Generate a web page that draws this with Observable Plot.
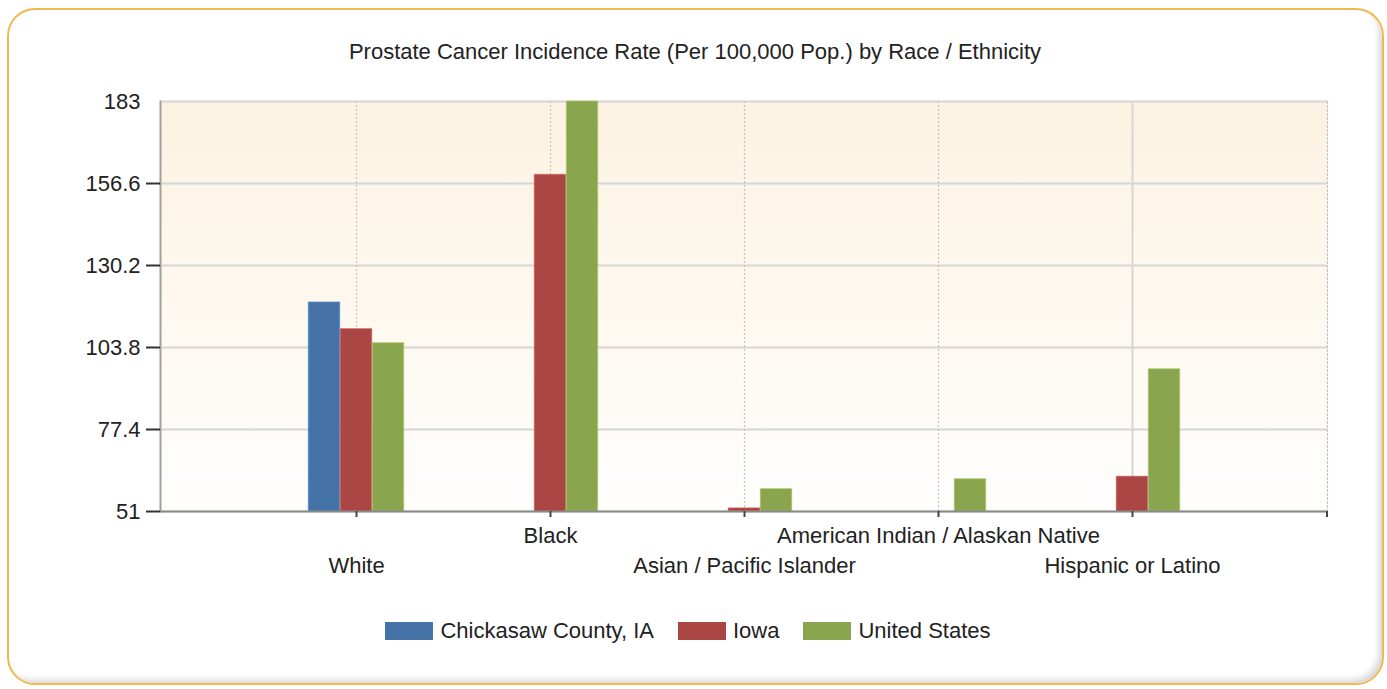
<!DOCTYPE html>
<html>
<head>
<meta charset="utf-8">
<script src="https://cdn.jsdelivr.net/npm/d3@7"></script>
<script src="https://cdn.jsdelivr.net/npm/@observablehq/plot@0.6"></script>
<style>
  html, body { margin: 0; padding: 0; background: #fff; width: 1387px; height: 689px; overflow: hidden; }
  body { position: relative; font-family: "Liberation Sans", Arial, sans-serif; color: #222; }
  #box { position: absolute; left: 7px; top: 8px; width: 1373px; height: 673px; border: 2px solid #f0b94e; border-radius: 28px;
         box-shadow: inset -5px -5px 6px -2px rgba(0,0,0,0.16); }
  #title { position: absolute; left: 0; width: 1390px; top: 39px; text-align: center; font-size: 22px; color: #222; }
  #chart { position: absolute; left: 0; top: 0; }
  #legend { position: absolute; left: 0; width: 1376px; top: 618px; display: flex; justify-content: center; font-size: 22px; color: #222; }
  .item { display: flex; align-items: center; margin: 0 12px; }
  .sw { width: 48px; height: 18px; margin-right: 7px; }
</style>
</head>
<body>
<div id="box"></div>
<div id="title">Prostate Cancer Incidence Rate (Per 100,000 Pop.) by Race / Ethnicity</div>
<div id="chart"></div>
<div id="legend"></div>
<script>
const categories = ["White", "Black", "Asian / Pacific Islander", "American Indian / Alaskan Native", "Hispanic or Latino"];
const series = ["Chickasaw County, IA", "Iowa", "United States"];
const colors = ["#4572a7", "#aa4643", "#89a54e"];
const chickasaw = [118.3, null, null, null, null];
const iowa = [109.7, 159.4, 52.0, null, 62.2];
const unitedStates = [105.2, 183.0, 58.2, 61.4, 96.8];
const yTicks = [51, 77.4, 103.8, 130.2, 156.6, 183];
const yMin = 51, yMax = 183;

const W = 1387, H = 600;
const mL = 160, mR = 60, mT = 101, mB = 89;
const barWidth = 32;
const band = (W - mL - mR) / (categories.length + 1);
const inset = (band - barWidth) / 2;

const valuesBySeries = [chickasaw, iowa, unitedStates];
const rows = [];
series.forEach((s, si) => categories.forEach((c, ci) => {
  const v = valuesBySeries[si][ci];
  if (v != null) rows.push({series: s, si, category: c, value: v});
}));

const upper = [categories[1], categories[3]];
const lower = [categories[0], categories[2], categories[4]];

const barMarks = series.map((s, si) => Plot.barY(rows.filter(r => r.si === si), {
  x: "category", y1: yMin, y2: "value", fill: colors[si],
  insetLeft: inset, insetRight: inset, dx: (si - 1) * barWidth,
  stroke: d3.color(colors[si]).brighter(0.6).formatHex(), strokeWidth: 1, strokeOpacity: 0.6
}));

const plot = Plot.plot({
  width: W, height: H,
  marginLeft: mL, marginRight: mR, marginTop: mT, marginBottom: mB,
  style: {fontFamily: "Liberation Sans, Arial, sans-serif", fontSize: "22px", color: "#222", background: "transparent", overflow: "visible"},
  x: {type: "band", domain: categories, paddingInner: 0, paddingOuter: 0.5, axis: null, label: null},
  y: {domain: [yMin, yMax], axis: null, label: null},
  marks: [
    Plot.frame({fill: "#fdf6ea", stroke: null, className: "bgframe"}),
    Plot.ruleY(yTicks, {stroke: "#d6d6d6", strokeWidth: 2}),
    Plot.gridX(categories.slice(0, 4), {stroke: "#c4c4c4", strokeOpacity: 1, strokeDasharray: "2,2", strokeWidth: 1.2}),
    Plot.gridX([categories[4]], {stroke: "#d6d6d6", strokeOpacity: 1, strokeWidth: 2}),
    Plot.frame({anchor: "right", stroke: "#c4c4c4", strokeDasharray: "2,2", strokeWidth: 1.2}),
    ...barMarks,
    Plot.frame({anchor: "left", stroke: "#a0a0a0", strokeWidth: 2}),
    Plot.ruleY([yMin], {stroke: "#8a8a8a", strokeWidth: 2}),
    Plot.axisY(yTicks.filter(t => t !== yMax), {tickSize: 14, stroke: "#333", strokeWidth: 2, tickFormat: () => "", label: null}),
    Plot.axisY(yTicks, {tickSize: 0, tickPadding: 20, tickFormat: d => String(d), fill: "#222", label: null}),
    Plot.axisX({tickSize: 6, stroke: "#444", strokeWidth: 2, tickFormat: () => "", label: null}),
    Plot.axisX(upper, {tickSize: 0, tickPadding: 16, fill: "#222", label: null}),
    Plot.axisX(lower, {tickSize: 0, tickPadding: 46, fill: "#222", label: null})
  ]
});
document.getElementById("chart").appendChild(plot);

// gradient background for the plotting area
const svg = d3.select(plot);
const defs = svg.insert("defs", ":first-child");
const g = defs.append("linearGradient").attr("id", "bgGrad").attr("x1", 0).attr("y1", 0).attr("x2", 0).attr("y2", 1);
g.append("stop").attr("offset", "0%").attr("stop-color", "#fcf2e1");
g.append("stop").attr("offset", "100%").attr("stop-color", "#fffefd");
svg.selectAll(".bgframe, .bgframe rect").filter(function() { return this.tagName === "rect"; }).attr("fill", "url(#bgGrad)");

// right-end tick on the x axis
const xr = plot.scale("x").range, yr = plot.scale("y").range;
svg.append("line").attr("x1", xr[1]).attr("x2", xr[1]).attr("y1", yr[0]).attr("y2", yr[0] + 6)
   .attr("stroke", "#444").attr("stroke-width", 2);

const legend = document.getElementById("legend");
series.forEach((s, i) => {
  const it = document.createElement("div"); it.className = "item";
  const sw = document.createElement("div"); sw.className = "sw"; sw.style.background = colors[i];
  const tx = document.createElement("span"); tx.textContent = s;
  it.appendChild(sw); it.appendChild(tx); legend.appendChild(it);
});
</script>
</body>
</html>
